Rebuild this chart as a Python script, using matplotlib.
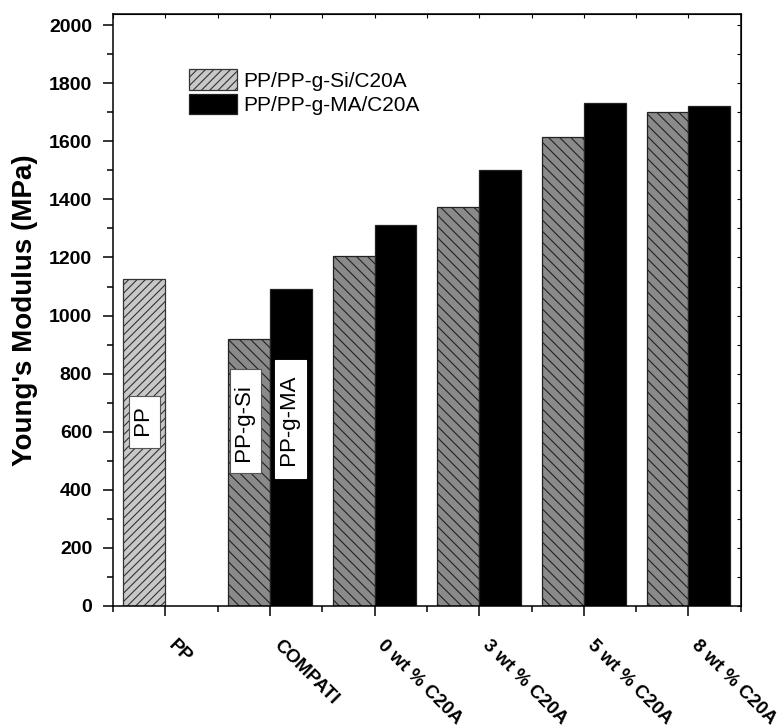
import numpy as np
import matplotlib
matplotlib.use('Agg')
import matplotlib.pyplot as plt
import matplotlib.transforms as mtransforms
from matplotlib.patches import Patch
from matplotlib.ticker import MultipleLocator

plt.rcParams['font.family'] = ['Liberation Sans', 'DejaVu Sans']
plt.rcParams['hatch.linewidth'] = 0.8

categories = ['PP', 'COMPATI', '0 wt % C20A', '3 wt % C20A', '5 wt % C20A', '8 wt % C20A']
pp_value = 1125
si_values = [np.nan, 918, 1204, 1373, 1614, 1700]
ma_values = [np.nan, 1090, 1313, 1500, 1731, 1721]
series_labels = ['PP/PP-g-Si/C20A', 'PP/PP-g-MA/C20A']

x = np.arange(len(categories))
w = 0.4

fig = plt.figure(figsize=(7.78, 7.28), dpi=100)
ax = fig.add_axes([0.1452, 0.1676, 0.807, 0.813])

# neat PP bar
ax.bar(x[0] - w / 2, pp_value, w, color='#c8c8c8', hatch='////',
       edgecolor='#333333', linewidth=0.9)
ax.bar(x - w / 2, si_values, w, color='#8a8a8a', hatch='\\\\\\',
       edgecolor='#222222', linewidth=0.9)
ax.bar(x + w / 2, ma_values, w, color='black', edgecolor='#222222', linewidth=0.9)

box = dict(boxstyle='square,pad=0.22', facecolor='white', edgecolor='#555555', linewidth=0.8)
ax.text(x[0] - w / 2, 634, ' PP ', rotation=90, ha='center', va='center',
        fontsize=16, bbox=box)
ax.text(x[1] - w / 2 - 0.03, 637, ' PP-g-Si  ', rotation=90, ha='center', va='center',
        fontsize=16, bbox=box)
ax.text(x[1] + w / 2, 644, ' PP-g-MA  ', rotation=90, ha='center', va='center',
        fontsize=16, bbox=dict(boxstyle='square,pad=0.22', facecolor='white',
                               edgecolor='white', linewidth=0.8))

ax.set_xlim(-0.5, len(categories) - 0.5)
ax.set_ylim(0, 2038)
ax.set_xticks(x)
ax.set_xticklabels(categories, rotation=-45, ha='left', va='top',
                   fontsize=13.5, fontweight='bold')
shift = mtransforms.ScaledTranslation(-8 / 100, 0, fig.dpi_scale_trans)
for lab in ax.get_xticklabels():
    lab.set_transform(lab.get_transform() + shift)
ax.xaxis.set_minor_locator(MultipleLocator(0.5))
ax.yaxis.set_major_locator(MultipleLocator(200))
ax.yaxis.set_minor_locator(MultipleLocator(100))
for lab in ax.get_yticklabels():
    lab.set_fontweight('bold')
ax.tick_params(axis='y', labelsize=14, pad=8)
ax.tick_params(axis='x', pad=15)
ax.tick_params(which='major', direction='out', length=7, width=1.1)
ax.tick_params(which='minor', direction='out', length=4, width=1.1)
for sp in ax.spines.values():
    sp.set_linewidth(1.1)

# small inward ticks on the top and right frame
top = ax.secondary_xaxis('top')
top.set_xticks(np.arange(-0.5, len(categories), 0.5))
top.tick_params(direction='in', length=3, width=0.8, labeltop=False)
right = ax.secondary_yaxis('right')
right.yaxis.set_major_locator(MultipleLocator(100))
right.tick_params(direction='in', length=3, width=0.8, labelright=False)

ax.set_ylabel("Young's Modulus (MPa)", fontsize=20, fontweight='bold', labelpad=8)

handles = [Patch(facecolor='#c8c8c8', hatch='////', edgecolor='#333333', linewidth=0.9),
           Patch(facecolor='black', edgecolor='#222222', linewidth=0.9)]
ax.legend(handles, series_labels, loc='upper left', bbox_to_anchor=(0.121, 0.907),
          frameon=False, fontsize=15, borderpad=0, borderaxespad=0,
          handlelength=2.3, handleheight=1.15, handletextpad=0.3, labelspacing=0.15)

fig.savefig('out.png', dpi=100)
